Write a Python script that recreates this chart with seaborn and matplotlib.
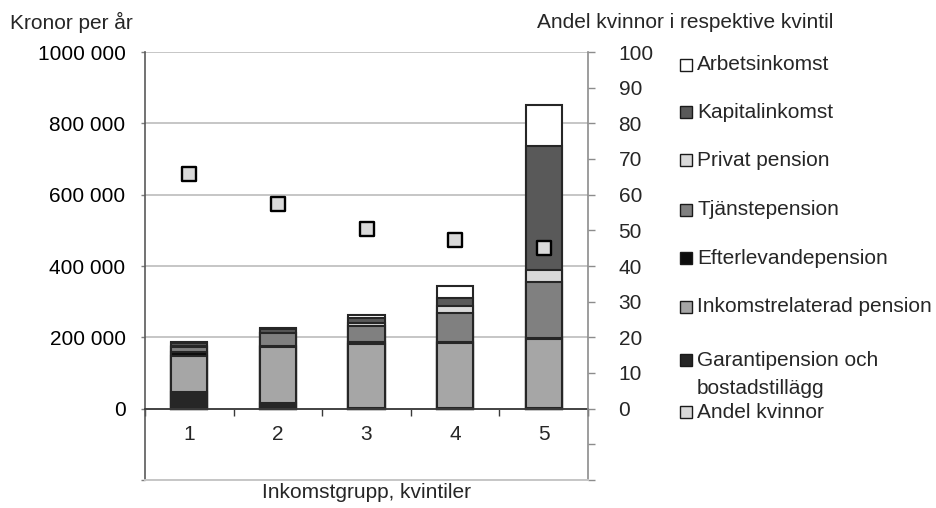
import numpy as np
import pandas as pd
import matplotlib
matplotlib.use("Agg")
import matplotlib.pyplot as plt
import seaborn as sns
from matplotlib.patches import Rectangle

# ---------------- data ----------------
kvintil = ["1", "2", "3", "4", "5"]
garanti = [46000, 16000, 3000, 2000, 2000]
inkomstrelaterad = [103000, 158000, 178000, 182000, 194000]
efterlevande = [9000, 2000, 5000, 3000, 2000]
tjanste = [16000, 36000, 45000, 81000, 157000]
privat = [2000, 1000, 8000, 19000, 34000]
kapital = [8000, 11000, 14000, 23000, 348000]
arbete = [2000, 2000, 11000, 35000, 114000]
andel_kvinnor = [65.8, 57.3, 50.5, 47.4, 45.0]

series_names = ["Garantipension och bostadstillägg", "Inkomstrelaterad pension",
                "Efterlevandepension", "Tjänstepension", "Privat pension",
                "Kapitalinkomst", "Arbetsinkomst"]
series_values = [garanti, inkomstrelaterad, efterlevande, tjanste, privat, kapital, arbete]
series_colors = ["#262626", "#a6a6a6", "#0d0d0d", "#808080", "#d9d9d9", "#595959", "#ffffff"]

left_ticks = [-200000, 0, 200000, 400000, 600000, 800000, 1000000]
left_labels = ["", "0", "200 000", "400 000", "600 000", "800 000", "1000 000"]
right_ticks = list(range(-20, 101, 10))
right_labels = ["" if t < 0 else str(t) for t in right_ticks]

# ---------------- style ----------------
sns.set_theme(style="white")
plt.rcParams["font.family"] = ["Liberation Sans", "DejaVu Sans"]
FS = 15

rows = []
for name, vals in zip(series_names, series_values):
    for k, v in zip(kvintil, vals):
        rows.append({"kvintil": k, "serie": name, "value": v})
df = pd.DataFrame(rows)
df["cum"] = df.groupby("kvintil")["value"].cumsum()

fig = plt.figure(figsize=(9.36, 5.08), dpi=100)
W, H = 936, 508
x0, x1, y0, y1 = 145, 588, 52, 480
ax = fig.add_axes([x0 / W, 1 - y1 / H, (x1 - x0) / W, (y1 - y0) / H])

for name, col in reversed(list(zip(series_names, series_colors))):
    sub = df[df["serie"] == name]
    sns.barplot(data=sub, x="kvintil", y="cum", order=kvintil, color=col,
                saturation=1, edgecolor="#262626", linewidth=1.5, width=0.41,
                errorbar=None, ax=ax, zorder=2)

ax.set_ylim(-200000, 1000000)
ax.set_xlim(-0.5, len(kvintil) - 0.5)
ax.set_xlabel("")
ax.set_ylabel("")
ax.set_yticks(left_ticks)
ax.set_yticklabels(left_labels)
ax.yaxis.grid(True, color="#c6c6c6", linewidth=1.4)
ax.xaxis.grid(False)
ax.set_axisbelow(True)
ax.tick_params(axis="y", which="major", length=3, width=1, color="#7f7f7f",
               pad=11, labelsize=FS, labelcolor="black", left=True)

ax.spines["bottom"].set_position(("data", 0))
ax.spines["bottom"].set_color("#3a3a3a")
ax.spines["bottom"].set_linewidth(1.3)
ax.spines["left"].set_color("#5a5a5a")
ax.spines["left"].set_linewidth(1.2)
ax.spines["top"].set_visible(False)
ax.spines["right"].set_visible(False)

ax.set_xticks(range(len(kvintil)))
ax.set_xticklabels(kvintil)
ax.set_xticks(np.arange(-0.5, len(kvintil), 1.0), minor=True)
ax.tick_params(axis="x", which="major", length=0, pad=12, labelsize=FS, bottom=True)
ax.tick_params(axis="x", which="minor", length=5, width=1, color="#3a3a3a",
               direction="out", bottom=True)

# right axis: share of women
ax2 = ax.twinx()
sns.scatterplot(x=np.arange(len(kvintil)), y=andel_kvinnor, marker="s", s=95,
                color="#d9d9d9", edgecolor="black", linewidth=1.7, ax=ax2,
                legend=False, zorder=5)
ax2.set_ylim(-20, 100)
ax2.set_xlim(-0.5, len(kvintil) - 0.5)
ax2.set_yticks(right_ticks)
ax2.set_yticklabels(right_labels)
ax2.set_ylabel("")
ax2.tick_params(axis="y", length=5, width=1, color="#8c8c8c", pad=17,
                labelsize=FS, right=True, left=False)
for s in ["left", "top"]:
    ax2.spines[s].set_visible(False)
ax2.spines["right"].set_color("#8c8c8c")
ax2.spines["right"].set_linewidth(1.2)
ax2.spines["bottom"].set_color("#c6c6c6")
ax2.spines["bottom"].set_linewidth(1.4)

# titles
fig.text(10 / W, 1 - 22 / H, "Kronor per år", ha="left", va="center", fontsize=FS)
fig.text(537 / W, 1 - 22 / H, "Andel kvinnor i respektive kvintil", ha="left",
         va="center", fontsize=FS)
fig.text((x0 + x1) / 2 / W, 1 - 492 / H, "Inkomstgrupp, kvintiler", ha="center",
         va="center", fontsize=FS)

# legend (manual, right side)
legend_items = list(zip(series_names, series_colors))[::-1] + [("Andel kvinnor", "#d9d9d9")]
legend_y = [65, 112, 160, 210, 258, 307, 360, 412]
sq = 12
for (name, col), yc in zip(legend_items, legend_y):
    fig.add_artist(Rectangle((680 / W, 1 - (yc + sq / 2) / H), sq / W, sq / H,
                             transform=fig.transFigure, facecolor=col,
                             edgecolor="#1a1a1a", linewidth=1.0))
    if name.startswith("Garantipension"):
        fig.text(697 / W, 1 - yc / H, "Garantipension och", ha="left", va="center", fontsize=FS)
        fig.text(697 / W, 1 - (yc + 28) / H, "bostadstillägg", ha="left", va="center", fontsize=FS)
    else:
        fig.text(697 / W, 1 - yc / H, name, ha="left", va="center", fontsize=FS)

fig.savefig("out.png", dpi=100)
